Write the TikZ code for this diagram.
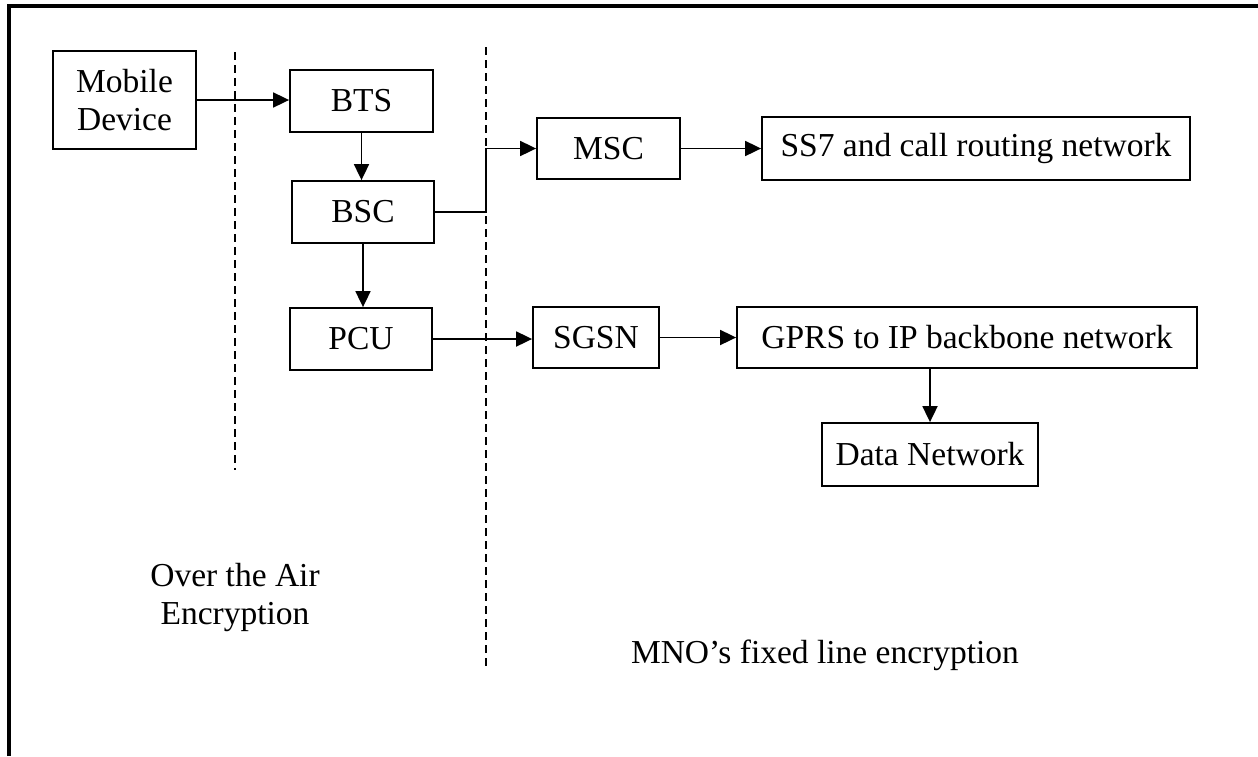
\documentclass[tikz,border=0pt]{standalone}
\usepackage{fontspec}
\setmainfont{Liberation Serif}
\usetikzlibrary{arrows.meta}
\begin{document}
\begin{tikzpicture}[x=1pt,y=-1pt,
  every node/.style={font=\fontsize{33.5}{38}\selectfont},
  box/.style={draw, line width=1.8pt, inner sep=0pt, align=center},
  conn/.style={line width=1.8pt, -{Triangle[length=16pt,width=15pt]}},
  sep/.style={line width=1.4pt, dash pattern=on 8pt off 5pt},
  lbl/.style={align=center, inner sep=0pt}]
\useasboundingbox (0,0) rectangle (1258,756);
% frame (top and left only)
\draw[line width=4pt] (9,756) -- (9,6) -- (1258,6);
% separators
\draw[sep] (235,52) -- (235,470);
\draw[sep] (486,47) -- (486,668);
% boxes
\node[box, minimum width=143pt, minimum height=98pt] (md) at (124.5,100) {Mobile\\Device};
\node[box, minimum width=143pt, minimum height=62pt] (bts) at (361.5,101) {BTS};
\node[box, minimum width=142pt, minimum height=62pt] (bsc) at (363,212) {BSC};
\node[box, minimum width=142pt, minimum height=62pt] (pcu) at (361,339) {PCU};
\node[box, minimum width=143pt, minimum height=61pt] (msc) at (608.5,148.5) {MSC};
\node[box, minimum width=428pt, minimum height=63pt] (ss7) at (976,148.5) {SS7 and call routing network};
\node[box, minimum width=126pt, minimum height=61pt] (sgsn) at (596,337.5) {SGSN};
\node[box, minimum width=460pt, minimum height=61pt] (gprs) at (967,337.5) {GPRS to IP backbone network};
\node[box, minimum width=216pt, minimum height=63pt] (data) at (930,454.5) {Data Network};
% labels
\node[lbl] (ota) at (235,597) {Over the Air\\Encryption};
\node[lbl] (mno) at (825,655) {MNO’s fixed line encryption};
% connectors
\draw[conn] (md.east) -- (md.east -| bts.west);
\draw[conn] (bts.south) -- (bts.south |- bsc.north);
\draw[conn] (bsc.east) -- ++(51,0) |- (msc.west);
\draw[conn] (bsc.south) -- (bsc.south |- pcu.north);
\draw[conn] (pcu.east) -- (pcu.east -| sgsn.west);
\draw[conn] (msc.east) -- (msc.east -| ss7.west);
\draw[conn] (sgsn.east) -- (sgsn.east -| gprs.west);
\draw[conn] (data.north |- gprs.south) -- (data.north);
\end{tikzpicture}
\end{document}
